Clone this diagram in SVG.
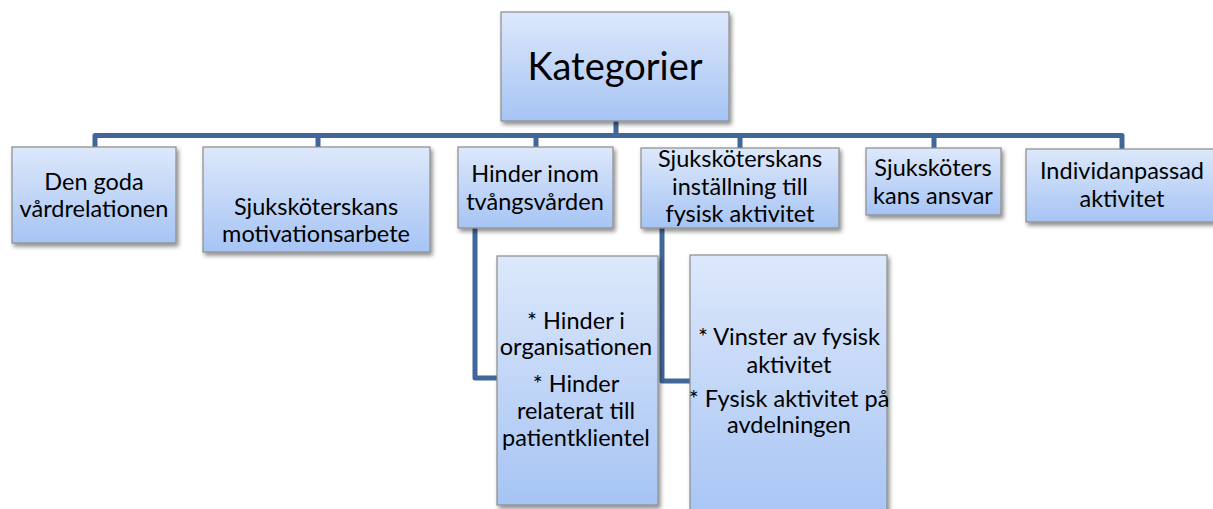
<svg xmlns="http://www.w3.org/2000/svg" width="1213" height="509" viewBox="0 0 1213 509">
<defs>
<linearGradient id="g" x1="0" y1="0" x2="0" y2="1">
<stop offset="0" stop-color="#dde8fb"/>
<stop offset="1" stop-color="#a6c4f4"/>
</linearGradient>
<filter id="sh" x="-10%" y="-10%" width="130%" height="130%">
<feDropShadow dx="2" dy="3" stdDeviation="2" flood-color="#000" flood-opacity="0.45"/>
</filter>
</defs>
<style>
.box{fill:url(#g);stroke:#8c8c8c;stroke-width:1.2;filter:url(#sh)}
.t{font-family:Lato,"Liberation Sans",sans-serif;font-size:23.5px;fill:#000;text-anchor:middle}
.c{fill:none;stroke:#41679a;stroke-width:5;stroke-linejoin:round}
</style>
<rect width="1213" height="509" fill="#fff"/>
<g id="connectors">
<path class="c" d="M616 121 V135.5"/>
<path class="c" d="M95 147 V135.5 H1122 V149"/>
<path class="c" d="M318 135.5 V147"/>
<path class="c" d="M536 135.5 V147"/>
<path class="c" d="M740 135.5 V148"/>
<path class="c" d="M934 135.5 V148"/>
<path class="c" d="M475 228 V378 H497"/>
<path class="c" d="M662 228 V381 H690"/>
</g>
<g id="root">
<rect class="box" x="501" y="12" width="228" height="109"/>
<text class="t" x="615" y="80" style="font-size:38px">Kategorier</text>
</g>
<g id="n1">
<rect class="box" x="12" y="147" width="164" height="96"/>
<text class="t" x="94" y="190">Den goda</text>
<text class="t" x="94" y="217">vårdrelationen</text>
</g>
<g id="n2">
<rect class="box" x="203" y="147" width="227" height="105"/>
<text class="t" x="316" y="215">Sjuksköterskans</text>
<text class="t" x="316" y="242">motivationsarbete</text>
</g>
<g id="n3">
<rect class="box" x="458" y="147" width="155" height="81"/>
<text class="t" x="535" y="182">Hinder inom</text>
<text class="t" x="535" y="210">tvångsvården</text>
</g>
<g id="n4">
<rect class="box" x="641" y="148" width="198" height="80"/>
<text class="t" x="740" y="167">Sjuksköterskans</text>
<text class="t" x="740" y="195">inställning till</text>
<text class="t" x="740" y="222">fysisk aktivitet</text>
</g>
<g id="n5">
<rect class="box" x="866" y="148" width="135" height="67"/>
<text class="t" x="933" y="176">Sjuksköters</text>
<text class="t" x="933" y="204">kans ansvar</text>
</g>
<g id="n6">
<rect class="box" x="1026" y="149" width="195" height="73"/>
<text class="t" x="1122" y="179">Individanpassad</text>
<text class="t" x="1122" y="207">aktivitet</text>
</g>
<g id="n7">
<rect class="box" x="497" y="256" width="161" height="249"/>
<text class="t" x="576" y="329">* Hinder i</text>
<text class="t" x="576" y="355">organisationen</text>
<text class="t" x="576" y="392">* Hinder</text>
<text class="t" x="576" y="419">relaterat till</text>
<text class="t" x="576" y="446">patientklientel</text>
</g>
<g id="n8">
<rect class="box" x="690" y="255" width="197" height="270"/>
<text class="t" x="789" y="345">* Vinster av fysisk</text>
<text class="t" x="789" y="373">aktivitet</text>
<text class="t" x="789" y="407">* Fysisk aktivitet på</text>
<text class="t" x="789" y="433">avdelningen</text>
</g>
</svg>
